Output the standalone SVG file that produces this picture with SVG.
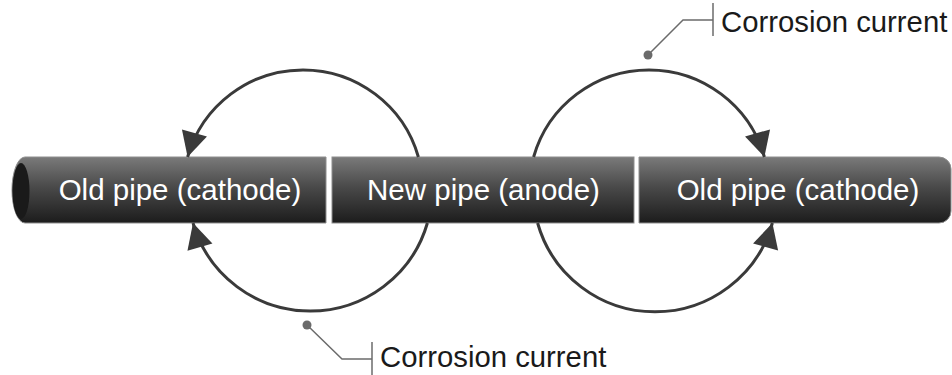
<svg xmlns="http://www.w3.org/2000/svg" width="952" height="375" viewBox="0 0 952 375">
  <defs>
    <linearGradient id="pipeGrad" x1="0" y1="0" x2="0" y2="1">
      <stop offset="0" stop-color="#7a7a7a"/>
      <stop offset="0.45" stop-color="#4a4a4a"/>
      <stop offset="1" stop-color="#1c1c1c"/>
    </linearGradient>
    <marker id="arrow" markerUnits="userSpaceOnUse" viewBox="-28 -15 30 30" markerWidth="30" markerHeight="30" refX="0" refY="0" orient="auto">
      <path d="M0,0 L-25,-13 L-25,13 Z" fill="#3a3a3a"/>
    </marker>
    <style>
      .pipe { fill: url(#pipeGrad); stroke: #8e8e8e; stroke-width: 1; }
      .label { font-family: "Liberation Sans", Arial, sans-serif; font-size: 29.5px; fill: #ffffff; text-anchor: middle; }
      .callout { font-family: "Liberation Sans", Arial, sans-serif; font-size: 29.3px; fill: #1a1a1a; }
      .arc { fill: none; stroke: #3a3a3a; stroke-width: 3; marker-end: url(#arrow); }
      .leader { fill: none; stroke: #6b6b6b; stroke-width: 1.5; }
      .dot { fill: #6b6b6b; }
    </style>
  </defs>
  <rect width="952" height="375" fill="#ffffff"/>

  <g id="old-pipe-left">
    <path class="pipe" d="M 25 157 H 326 V 223 H 25 A 13 33 0 0 1 25 157 Z"/>
    <ellipse cx="21" cy="191" rx="8.5" ry="28" fill="#1a1a1a"/>
    <text class="label" x="180" y="199.5">Old pipe (cathode)</text>
  </g>

  <g id="new-pipe">
    <rect class="pipe" x="332" y="157" width="302" height="66"/>
    <text class="label" x="483.5" y="199.5">New pipe (anode)</text>
  </g>

  <g id="old-pipe-right">
    <path class="pipe" d="M 639 157 H 939 A 12 12 0 0 1 951 169 V 211 A 12 12 0 0 1 939 223 H 639 Z"/>
    <text class="label" x="798" y="199.5">Old pipe (cathode)</text>
  </g>

  <g id="connectors">
    <path class="arc" d="M 418.4 157 A 120 120 0 0 0 187.6 157"/>
    <path class="arc" d="M 427.4 223 A 122 122 0 0 1 193 223"/>
    <path class="arc" d="M 533.6 157 A 120 120 0 0 1 764.4 157"/>
    <path class="arc" d="M 537.6 223 A 122 122 0 0 0 772.4 223"/>
  </g>

  <g id="callout-top">
    <circle class="dot" cx="648" cy="55" r="4.5"/>
    <polyline class="leader" points="648,55 683,20 713,20"/>
    <line class="leader" x1="713" y1="3" x2="713" y2="36"/>
    <text class="callout" x="721" y="32">Corrosion current</text>
  </g>

  <g id="callout-bottom">
    <circle class="dot" cx="307" cy="325" r="4.5"/>
    <polyline class="leader" points="307,325 342,359 372,359"/>
    <line class="leader" x1="372" y1="342" x2="372" y2="375"/>
    <text class="callout" x="380" y="367">Corrosion current</text>
  </g>
</svg>
